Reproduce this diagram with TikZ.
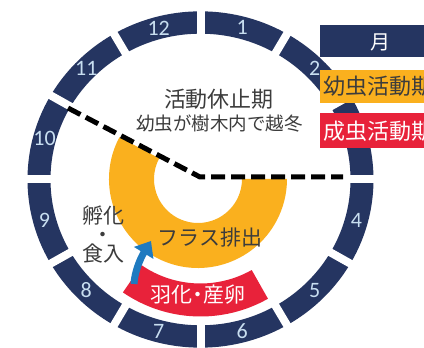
\documentclass[tikz,border=0pt]{standalone}
\usepackage{fontspec}
\setmainfont{Noto Sans CJK JP}
\newfontfamily\digitfont{Carlito}
\usetikzlibrary{arrows.meta,calc}
\definecolor{navy}{RGB}{37,53,97}
\definecolor{larva}{RGB}{250,176,30}
\definecolor{adult}{RGB}{232,34,58}
\definecolor{txtgray}{RGB}{60,60,60}
\definecolor{digit}{RGB}{200,222,240}
\definecolor{arrowblue}{RGB}{30,122,192}
\tikzset{
  monthlabel/.style={text=digit,font=\digitfont\fontsize{22}{22}\selectfont,inner sep=0pt},
  gaptick/.style={white,line width=8pt},
  dashline/.style={black,line width=5pt,dash pattern=on 14pt off 6pt},
  jtext/.style={text=txtgray,inner sep=0pt},
}
\begin{document}
\begin{tikzpicture}[x=1pt,y=1pt]
\clip (0,0) rectangle (424,348);
\fill[white] (0,0) rectangle (424,348);
% month ring
\begin{scope}[shift={(200.5,168.5)},yscale=0.972]
  \fill[navy,even odd rule] (0,0) circle (173) (0,0) circle (150);
  \foreach \a in {0,30,...,330} \draw[gaptick] (\a:147) -- (\a:177);
  \foreach \h/\ang in {12/105,1/75,2/45,4/-15,5/-45,6/-75,7/-105,8/-135,9/-165,10/165,11/135}
    \node[monthlabel] (m\h) at (\ang:161.5) {\h};
\end{scope}
% larva activity (orange ring)
\fill[larva] (198,169) ++(152:89) arc[start angle=152,end angle=360,radius=89]
  -- ++(180:45) arc[start angle=360,end angle=152,radius=44] -- cycle;
% adult activity (red band)
\coordinate (rc) at (200.5,168.5);
\fill[adult] ($(rc)+(235.5:137)$) arc[start angle=235.5,end angle=299.5,radius=137]
  -- ($(rc)+(299.5:104)$) arc[start angle=299.5,end angle=235.5,radius=104] -- cycle;
% dashed boundary
\coordinate (dl) at (68,240);
\coordinate (dc) at (200,171);
\coordinate (dr) at (343,171);
\draw[dashline] (dl) -- (dc) -- (dr);
% blue arrow
\coordinate (atail) at (134,64);
\coordinate (ahead) at (151,107);
\draw[arrowblue,line width=7pt,-{Triangle[length=14pt,width=22pt]}] (atail) .. controls (135,80) and (143,94) .. (ahead);
% texts
\node[jtext,font=\fontsize{22}{22}\selectfont] (rest) at (219,249) {活動休止期};
\node[jtext,font=\fontsize{18.5}{18.5}\selectfont] (winter) at (219.5,224) {幼虫が樹木内で越冬};
\node[jtext,font=\fontsize{21}{19}\selectfont,align=center] (hatch) at (103,114) {孵化\\・\\食入};
\node[jtext,font=\fontsize{21}{21}\selectfont] (frass) at (210,110) {フラス排出};
\node[text=white,inner sep=0pt,font=\fontsize{21}{21}\selectfont] (emerge) at (198,53) {羽化\hspace{-5pt}・\hspace{-5pt}産卵};
% legend
\fill[navy] (320,291) rectangle (430,323);
\node[text=white,inner sep=0pt,font=\fontsize{20}{20}\selectfont] (lgmonth) at (380,306) {月};
\fill[larva] (320,245) rectangle (430,278);
\node[jtext,anchor=west,font=\fontsize{22}{22}\selectfont] (lglarva) at (323,262) {幼虫活動期};
\fill[adult] (320,200) rectangle (430,235);
\node[text=white,inner sep=0pt,anchor=west,font=\fontsize{22}{22}\selectfont] (lgadult) at (323,217) {成虫活動期};
\end{tikzpicture}
\end{document}
